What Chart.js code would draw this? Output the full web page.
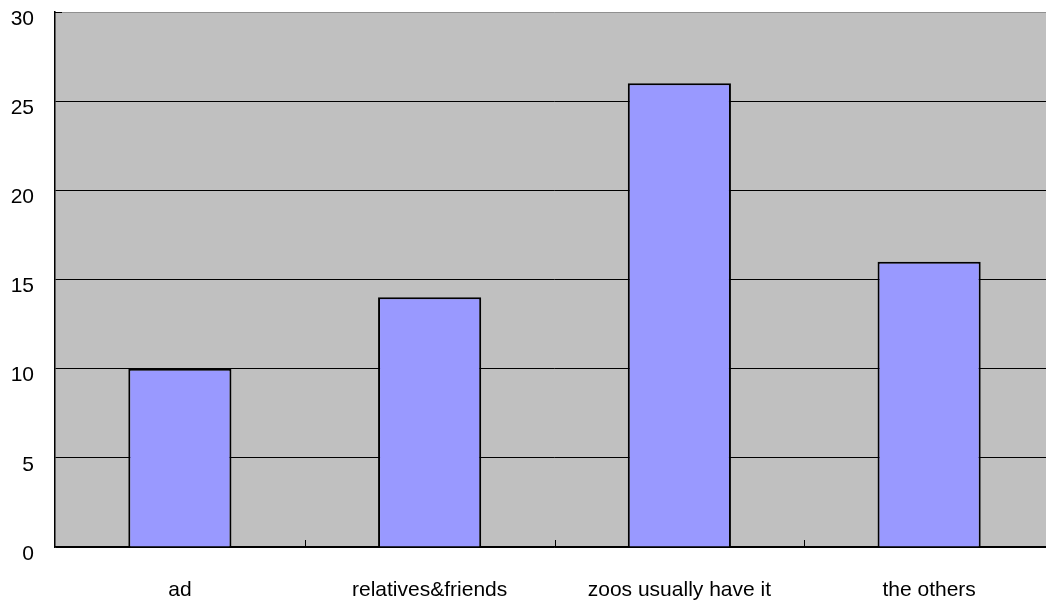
<!DOCTYPE html>
<html>
<head>
<meta charset="utf-8">
<script src="https://cdn.jsdelivr.net/npm/chart.js@4"></script>
<style>
  html, body { margin: 0; padding: 0; background: #fff; overflow: hidden; }
  #wrap { width: 1054px; height: 606px; }
</style>
</head>
<body>
<div id="wrap"><canvas id="chart"></canvas></div>
<script>
// chart data
const categories = ['ad', 'relatives&friends', 'zoos usually have it', 'the others'];
const counts = [10, 14, 26, 16];
const yTicks = [0, 5, 10, 15, 20, 25, 30];

const FONT = { family: '"Liberation Sans", Arial, sans-serif', size: 21 };

// gray plot background + small category ticks inside the plot
const plotDecor = {
    id: 'plotDecor',
    beforeDraw(chart) {
        const a = chart.chartArea;
        const ctx = chart.ctx;
        ctx.save();
        ctx.fillStyle = '#c0c0c0';
        ctx.fillRect(a.left, a.top, a.right - a.left, a.bottom - a.top);
        ctx.restore();
    },
    afterDatasetsDraw(chart) {
        const x = chart.scales.x;
        const a = chart.chartArea;
        const ctx = chart.ctx;
        ctx.save();
        ctx.strokeStyle = '#000';
        ctx.lineWidth = 1;
        for (let i = 1; i < categories.length; i++) {
            const px = Math.round((x.getPixelForTick(i - 1) + x.getPixelForTick(i)) / 2) + 0.5;
            ctx.beginPath();
            ctx.moveTo(px, a.bottom);
            ctx.lineTo(px, a.bottom - 7);
            ctx.stroke();
        }
        // short tick at the top of the value axis
        ctx.beginPath();
        ctx.moveTo(a.left, a.top + 0.5);
        ctx.lineTo(a.left + 7, a.top + 0.5);
        ctx.stroke();
        ctx.restore();
    }
};

new Chart(document.getElementById('chart'), {
    type: 'bar',
    data: {
        labels: categories,
        datasets: [{
            data: counts,
            backgroundColor: '#9999ff',
            borderColor: '#000000',
            borderWidth: 2,
            barPercentage: 0.413,
            categoryPercentage: 1.0
        }]
    },
    options: {
        responsive: true,
        maintainAspectRatio: false,
        animation: false,
        layout: { padding: { top: 12, right: 0, bottom: 0, left: 0 } },
        plugins: {
            legend: { display: false },
            tooltip: { enabled: false }
        },
        scales: {
            x: {
                grid: { display: false },
                border: { display: true, color: '#000', width: 1.5 },
                ticks: { color: '#000', font: FONT, padding: 23, maxRotation: 0, autoSkip: false },
                afterFit(scale) {
                    scale.height = 59;
                    scale.paddingLeft = 0;
                    scale.paddingRight = 0;
                }
            },
            y: {
                min: 0,
                max: 30,
                afterBuildTicks(scale) { scale.ticks = yTicks.map(v => ({ value: v })); },
                grid: {
                    drawTicks: false,
                    color: ctx => ctx.tick && ctx.tick.value === 30 ? '#909090' : '#000',
                    lineWidth: 1
                },
                border: { display: true, color: '#000', width: 1.5 },
                ticks: { color: '#000', font: FONT, padding: 21, labelOffset: 7 },
                afterFit(scale) {
                    scale.width = 55;
                    scale.paddingTop = 0;
                    scale.paddingBottom = 0;
                }
            }
        }
    },
    plugins: [plotDecor]
});
</script>
</body>
</html>
